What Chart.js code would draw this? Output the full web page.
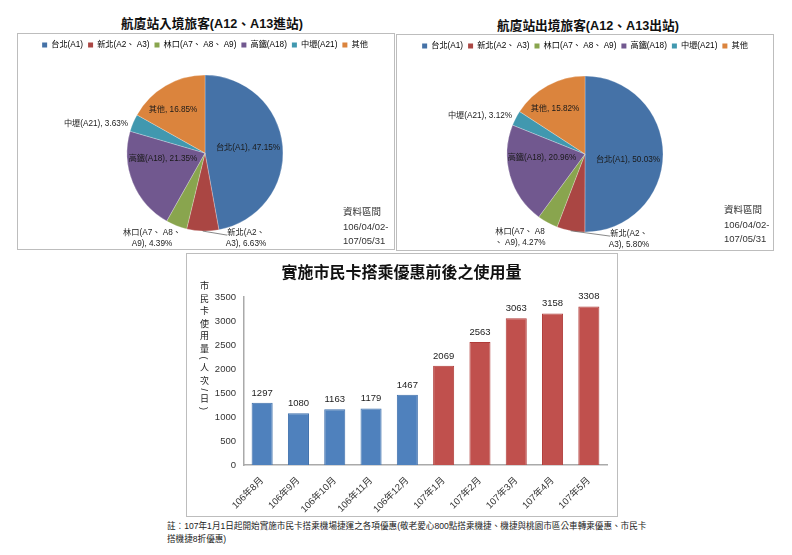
<!DOCTYPE html>
<html><head><meta charset="utf-8">
<script src="https://cdn.jsdelivr.net/npm/chart.js@4"></script>
<style>
html,body{margin:0;padding:0;background:#fff;width:792px;height:555px;overflow:hidden}
body{position:relative;font-family:"Liberation Sans","Noto Sans CJK TC",sans-serif;color:#222}
.frame{position:absolute;border:1px solid #bdbdbd;box-sizing:border-box;background:#fff}
canvas{position:absolute}
.t{position:absolute;white-space:nowrap}
.title{font-size:12.7px;font-weight:bold;color:#111;transform:translateX(-50%)}
.src{font-size:9.5px;line-height:14.5px;color:#333}
.axis{font-size:9px;writing-mode:vertical-rl;letter-spacing:3.6px;color:#222}
.note{font-size:8.6px;line-height:13px;color:#222;white-space:normal;width:482px}
</style></head><body>
<div class="t title" style="left:212px;top:13px" id="tIn"></div>
<div class="t title" style="left:588px;top:15px" id="tOut"></div>
<div class="frame" style="left:17px;top:33px;width:378px;height:217px"></div>
<div class="frame" style="left:396px;top:34px;width:378px;height:217px"></div>
<div class="frame" style="left:186px;top:253px;width:432px;height:264px"></div>
<canvas id="pieIn" style="left:17px;top:33px"></canvas>
<canvas id="pieOut" style="left:396px;top:34px"></canvas>
<canvas id="bars" style="left:186px;top:253px"></canvas>
<div class="t src" style="left:343px;top:205px" id="srcIn"></div>
<div class="t src" style="left:724px;top:203px" id="srcOut"></div>
<div class="t axis" style="left:198px;top:281px" id="axisT"></div>
<div class="t note" style="left:167px;top:520px" id="note"></div>
<script>
const stationNames = ['台北(A1)','新北(A2、 A3)','林口(A7、 A8、 A9)','高鐵(A18)','中壢(A21)','其他'];
const inboundShare = [47.15,6.63,4.39,21.35,3.63,16.85];
const outboundShare = [50.03,5.80,4.27,20.96,3.12,15.82];
const pieColors = ['#4572A7','#AA4643','#89A54E','#71588F','#4198AF','#DB843D'];
const inboundTitle = '航廈站入境旅客(A12、A13進站)';
const outboundTitle = '航廈站出境旅客(A12、A13出站)';
const sourceLines = ['資料區間','106/04/02-','107/05/31'];
const months = ['106年8月','106年9月','106年10月','106年11月','106年12月','107年1月','107年2月','107年3月','107年4月','107年5月'];
const usage = [1297,1080,1163,1179,1467,2069,2563,3063,3158,3308];
const barTitle = '實施市民卡搭乘優惠前後之使用量';
const axisTitle = '市民卡使用量(人次/日)';
const noteText = '註：107年1月1日起開始實施市民卡搭乘機場捷運之各項優惠(敬老愛心800點搭乘機捷、機捷與桃園市區公車轉乘優惠、市民卡搭機捷8折優惠)';

// label placement, pixels from pie centre
const inOffsets = [[43,-5],[41,85],[-53,85],[-42,6],[-109,-29],[-32,-43]];
const outOffsets = [[43,6],[44,85],[-65,83],[-43,4],[-105,-38],[-30,-45]];
const inBreaks = {1:'A2、',2:'A8、'};
const outBreaks = {1:'A2、',2:'A8'};

const FONT = '"Liberation Sans","Noto Sans CJK TC",sans-serif';
document.getElementById('tIn').textContent = inboundTitle;
document.getElementById('tOut').textContent = outboundTitle;
document.getElementById('srcIn').innerHTML = sourceLines.join('<br>');
document.getElementById('srcOut').innerHTML = sourceLines.join('<br>');
document.getElementById('axisT').textContent = axisTitle;
document.getElementById('note').textContent = noteText;

const pieLabels = {
  id:'pieLabels',
  afterDatasetsDraw(chart,args,opts){
    const {ctx} = chart, arcs = chart.getDatasetMeta(0).data, vals = chart.data.datasets[0].data;
    ctx.save();
    ctx.font = '8.2px '+FONT; ctx.textAlign='center'; ctx.textBaseline='middle'; ctx.fillStyle='#1a1a1a';
    arcs.forEach((a,i)=>{
      const [dx,dy] = opts.offsets[i];
      const full = chart.data.labels[i].replace(/\s+/g,' ')+', '+vals[i].toFixed(2)+'%';
      let lines = [full];
      const br = opts.breaks[i];
      if(br){const k = full.indexOf(br)+br.length; lines=[full.slice(0,k).trim(),full.slice(k).trim()];}
      const cx=a.x+dx, cy=a.y+dy, lh=10.7;
      if(i===1){ // leader line from the slice edge to its label
        const mid=(a.startAngle+a.endAngle)/2;
        ctx.strokeStyle='#555'; ctx.lineWidth=0.7; ctx.beginPath();
        ctx.moveTo(a.x+Math.cos(mid)*a.outerRadius,a.y+Math.sin(mid)*a.outerRadius);
        ctx.lineTo(cx-19,cy-3); ctx.stroke();
      }
      lines.forEach((l,j)=>ctx.fillText(l,cx,cy+(j-(lines.length-1)/2)*lh));
    });
    ctx.restore();
  }
};

function makePie(id,values,offsets,breaks,rightPad){
  return new Chart(document.getElementById(id),{
    type:'pie',
    data:{labels:stationNames,datasets:[{data:values,backgroundColor:pieColors,borderColor:'rgba(255,255,255,0.5)',borderWidth:0.5,radius:78}]},
    options:{
      responsive:false,animation:false,devicePixelRatio:1,
      layout:{padding:{top:3,left:0,right:rightPad,bottom:2}},
      plugins:{
        legend:{position:'top',labels:{font:{size:8.2,family:FONT},color:'#333',boxWidth:5,boxHeight:5,padding:5,
          generateLabels(c){return c.data.labels.map((t,i)=>({text:t,fillStyle:pieColors[i],strokeStyle:pieColors[i],lineWidth:0,index:i}));}}},
        tooltip:{enabled:false},
        pieLabels:{offsets,breaks}
      }
    },
    plugins:[pieLabels]
  });
}
function size(id,w,h){const c=document.getElementById(id);c.width=w;c.height=h;c.style.width=w+'px';c.style.height=h+'px';}
size('pieIn',378,216);size('pieOut',378,216);size('bars',431,263);
makePie('pieIn',inboundShare,inOffsets,inBreaks,2);
makePie('pieOut',outboundShare,outOffsets,outBreaks,0);

const barValues = {
  id:'barValues',
  afterDatasetsDraw(chart){
    const {ctx}=chart; ctx.save();
    ctx.font='9.5px '+FONT; ctx.fillStyle='#222'; ctx.textAlign='center'; ctx.textBaseline='bottom';
    chart.getDatasetMeta(0).data.forEach((b,i)=>ctx.fillText(String(usage[i]),b.x,b.y-5));
    ctx.restore();
  }
};
const fills = usage.map((_,i)=> i<5 ? '#4F81BD':'#C0504D');
const edges = usage.map((_,i)=> i<5 ? '#3F70AC':'#B03C39');
new Chart(document.getElementById('bars'),{
  type:'bar',
  data:{labels:months,datasets:[{data:usage,backgroundColor:fills,borderColor:edges,borderWidth:1,barPercentage:0.58,categoryPercentage:1}]},
  options:{
    responsive:false,animation:false,devicePixelRatio:1,
    layout:{padding:{right:10,top:0,bottom:0,left:10}},
    plugins:{
      legend:{display:false},tooltip:{enabled:false},
      title:{display:true,text:barTitle,color:'#111',font:{size:16,weight:'bold',family:FONT},padding:{top:11,bottom:14}}
    },
    scales:{
      x:{grid:{display:false},border:{color:'#aaa',width:1.5},
        ticks:{color:'#333',font:{size:9.5,family:FONT},minRotation:45,maxRotation:45,autoSkip:false,padding:2},
        afterFit(s){s.height=51;}},
      y:{min:0,max:3500,grid:{display:false},border:{color:'#aaa',width:1.5},
        ticks:{stepSize:500,color:'#333',font:{size:9.5,family:FONT},padding:0,callback:v=>String(v)},
        afterFit(s){s.width=48;}}
    }
  },
  plugins:[barValues]
});
</script>
</body></html>
